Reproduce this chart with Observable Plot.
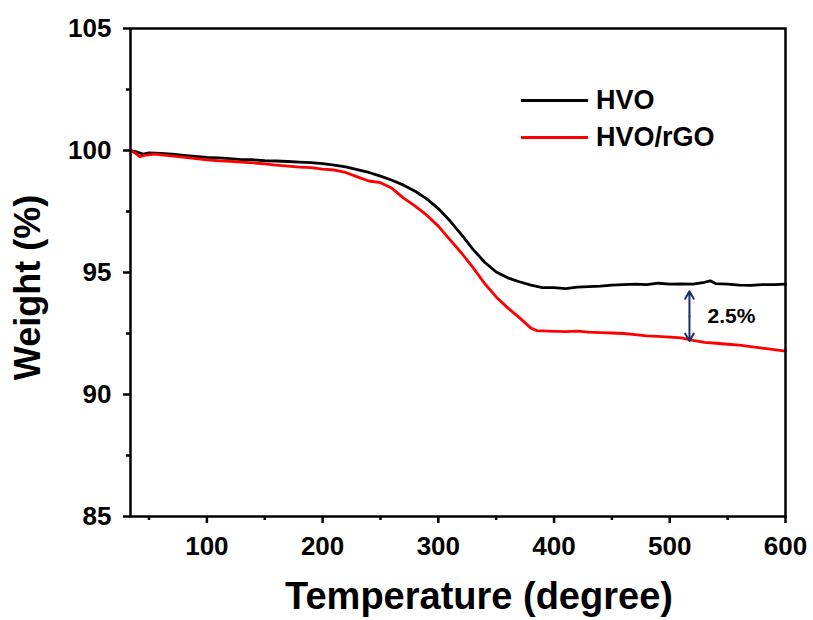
<!DOCTYPE html>
<html>
<head>
<meta charset="utf-8">
<script src="https://cdn.jsdelivr.net/npm/d3@7"></script>
<script src="https://cdn.jsdelivr.net/npm/@observablehq/plot@0.6"></script>
<style>
  body { margin: 0; background: #fff; }
  #wrap { position: relative; width: 813px; height: 620px; font-family: "Liberation Sans", Arial, sans-serif; }
  .leg { position: absolute; display: flex; align-items: center; font-weight: bold; font-size: 27px; color: #000; }
  .leg span.ln { display: inline-block; width: 67px; height: 3px; margin-right: 8px; }
</style>
</head>
<body>
<div id="wrap"></div>
<script>
// Temperature (degree) and weight (%)
const hvoT = [34,40,45,50,60,70,80,90,100,110,120,130,140,150,160,170,180,190,200,210,220,230,240,250,260,270,280,290,300,310,320,330,340,350,360,370,380,390,400,410,420,430,440,450,460,470,480,490,500,510,520,530,535,540,550,560,570,580,590,600];
const hvoW = [100.0,99.93,99.85,99.9,99.88,99.85,99.8,99.76,99.72,99.7,99.67,99.63,99.62,99.58,99.57,99.55,99.52,99.5,99.46,99.4,99.33,99.22,99.1,98.95,98.78,98.58,98.33,98.02,97.62,97.12,96.55,95.95,95.42,95.02,94.78,94.62,94.48,94.38,94.38,94.34,94.4,94.42,94.44,94.48,94.5,94.52,94.5,94.56,94.52,94.53,94.52,94.6,94.66,94.54,94.52,94.48,94.47,94.5,94.5,94.52];

const rgoT = [34,38,42,46,55,65,75,85,100,110,120,130,140,150,160,170,180,190,200,210,220,230,240,250,260,270,280,290,300,310,320,330,340,350,360,370,380,385,395,410,420,430,440,450,460,470,480,490,500,510,520,530,540,550,560,570,580,590,600];
const rgoW = [100.0,99.9,99.75,99.8,99.85,99.8,99.75,99.7,99.62,99.58,99.56,99.52,99.49,99.45,99.4,99.36,99.32,99.3,99.24,99.2,99.1,98.92,98.75,98.68,98.45,98.05,97.72,97.35,96.9,96.35,95.8,95.2,94.55,94.0,93.55,93.15,92.72,92.62,92.6,92.58,92.6,92.56,92.54,92.52,92.5,92.45,92.4,92.38,92.35,92.32,92.22,92.14,92.1,92.06,92.02,91.96,91.9,91.84,91.78];

const seriesNames = ["HVO", "HVO/rGO"];
const seriesColors = ["#000000", "#ff0000"];

const xMajor = [100,200,300,400,500,600];
const xMinor = [50,150,250,350,450,550];
const yMajor = [85,90,95,100,105];
const yMinor = [87.5,92.5,97.5,102.5];

// annotation: gap between curves at ~517 degree
const annT = [517];
const annLow = [92.15];
const annHigh = [94.27];
const annText = ["2.5%"];

const hvo = hvoT.map((t, i) => ({t, w: hvoW[i]}));
const rgo = rgoT.map((t, i) => ({t, w: rgoW[i]}));
const ann = annT.map((t, i) => ({t, lo: annLow[i], hi: annHigh[i], mid: (annLow[i] + annHigh[i]) / 2, label: annText[i]}));

const font = "'Liberation Sans', Arial, sans-serif";

const chart = Plot.plot({
  width: 813,
  height: 620,
  marginLeft: 130,
  marginRight: 28,
  marginTop: 28,
  marginBottom: 104,
  style: { fontFamily: font, background: "#fff", color: "#000" },
  x: { domain: [34, 600] },
  y: { domain: [85, 105] },
  marks: [
    Plot.line(hvo, { x: "t", y: "w", stroke: seriesColors[0], strokeWidth: 2.8 }),
    Plot.line(rgo, { x: "t", y: "w", stroke: seriesColors[1], strokeWidth: 2.8 }),
    Plot.arrow(ann, { x1: "t", x2: "t", y1: "mid", y2: "hi", stroke: "#1b2f6b", strokeWidth: 2, headLength: 9, insetEnd: 1 }),
    Plot.arrow(ann, { x1: "t", x2: "t", y1: "mid", y2: "lo", stroke: "#1b2f6b", strokeWidth: 2, headLength: 9, insetEnd: 1 }),
    Plot.text(ann, { x: "t", y: "mid", text: "label", dx: 18, textAnchor: "start", fontSize: 21, fontWeight: "bold", fill: "#000" }),
    Plot.axisX({ ticks: xMajor, tickSize: 7, tickPadding: 13, fontSize: 26, fontWeight: "bold", strokeWidth: 2.5, label: null }),
    Plot.axisX({ ticks: xMinor, tickSize: 4, text: null, strokeWidth: 2.5, label: null }),
    Plot.axisY({ ticks: yMajor, tickSize: 7, tickPadding: 12, fontSize: 26, fontWeight: "bold", strokeWidth: 2.5, label: null }),
    Plot.axisY({ ticks: yMinor, tickSize: 4, text: null, strokeWidth: 2.5, label: null }),
    Plot.frame({ stroke: "#000", strokeWidth: 2.5 }),
    Plot.text(["Weight (%)"], { frameAnchor: "left", textAnchor: "middle", lineAnchor: "middle", dx: -102, dy: 15, rotate: -90, fontSize: 36, fontWeight: "bold", fill: "#000" }),
    Plot.text(["Temperature (degree)"], { frameAnchor: "bottom", textAnchor: "middle", lineAnchor: "middle", dx: 21, dy: 80, fontSize: 38, fontWeight: "bold", fill: "#000" })
  ]
});

const wrap = document.getElementById("wrap");
wrap.appendChild(chart);

const legTops = [86, 123];
seriesNames.forEach((name, i) => {
  const d = document.createElement("div");
  d.className = "leg";
  d.style.left = "521px";
  d.style.top = legTops[i] + "px";
  d.style.height = "29px";
  d.innerHTML = `<span class="ln" style="background:${seriesColors[i]}"></span><span>${name}</span>`;
  wrap.appendChild(d);
});
</script>
</body>
</html>
